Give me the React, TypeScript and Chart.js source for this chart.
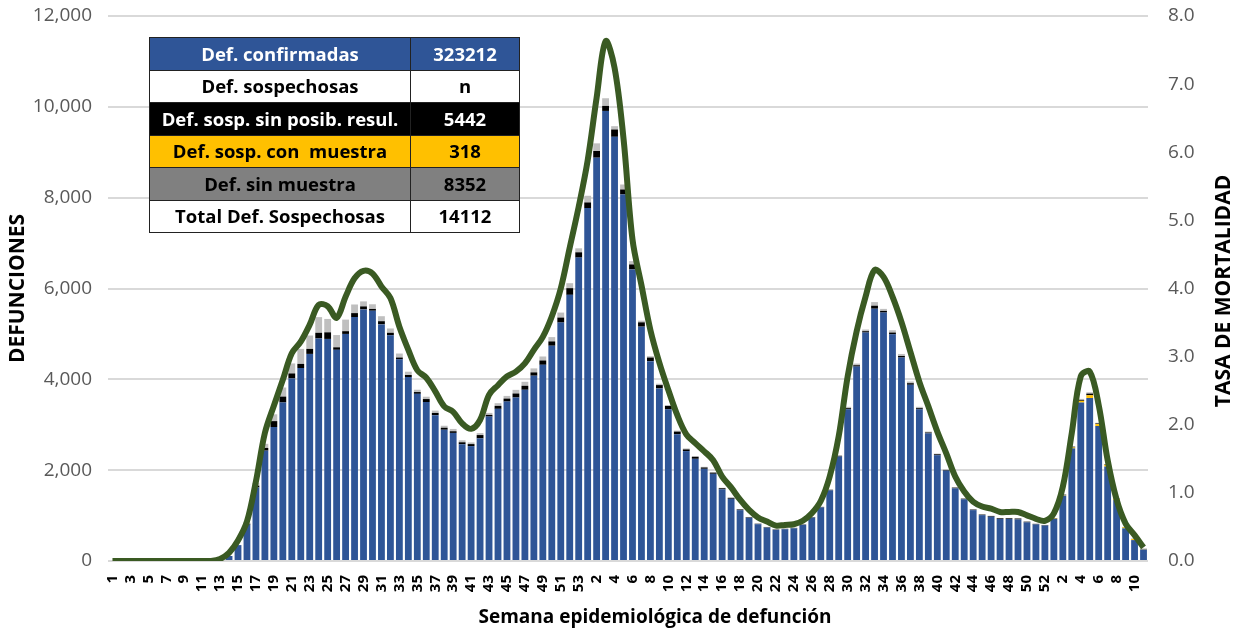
import React, { useEffect, useRef } from "react";
import { Chart, registerables } from "chart.js";

Chart.register(...registerables);

const weekLabels: string[] = [
  "1","2","3","4","5","6","7","8","9","10","11","12","13","14","15","16","17","18","19","20",
  "21","22","23","24","25","26","27","28","29","30","31","32","33","34","35","36","37","38","39","40",
  "41","42","43","44","45","46","47","48","49","50","51","52","53",
  "1","2","3","4","5","6","7","8","9","10","11","12","13","14","15","16","17","18","19","20",
  "21","22","23","24","25","26","27","28","29","30","31","32","33","34","35","36","37","38","39","40",
  "41","42","43","44","45","46","47","48","49","50","51","52",
  "1","2","3","4","5","6","7","8","9","10","11",
];

const confirmadas: number[] = [
  // 2020
  0,0,0,0,0,0,0,0,0,0,0,5,30,110,350,800,1620,2430,2950,3490,
  4020,4250,4560,4900,4890,4650,5000,5370,5540,5510,5210,4970,4440,4050,3680,3500,3210,2890,2820,2570,
  2530,2700,3180,3350,3510,3600,3770,4080,4320,4740,5250,5860,6680,
  // 2021
  7770,8880,9910,9340,8070,6420,5160,4400,3800,3340,2790,2420,2250,2030,1920,1580,1370,1120,950,810,
  735,685,700,720,795,955,1180,1555,2300,3340,4280,5030,5555,5470,4990,4480,3880,3340,2810,2330,
  1990,1600,1360,1120,1010,975,925,925,915,850,805,780,
  // 2022
  925,1440,2480,3490,3590,2970,2080,1340,720,460,255,
];

const sospConMuestra: number[] = [
  0,0,0,0,0,0,0,0,0,0,0,0,0,0,0,0,0,0,0,0,
  0,0,0,0,0,0,0,0,0,0,0,0,0,0,0,0,0,0,0,0,
  0,0,0,0,0,0,0,0,0,0,0,0,0,
  0,0,0,0,0,0,0,0,0,0,0,0,0,0,0,0,0,0,0,0,
  0,0,0,0,0,0,0,0,0,0,0,0,0,0,0,0,0,0,0,0,
  0,0,0,0,0,0,0,0,0,0,0,0,
  5,10,20,37,59,44,37,22,22,22,10,
];

const sospSinPosibResul: number[] = [
  0,0,0,0,0,0,0,0,0,0,0,0,0,0,0,20,40,60,130,130,
  110,90,110,125,145,55,60,88,66,40,70,55,40,45,40,66,50,44,37,44,
  44,73,37,66,66,88,88,73,95,95,110,147,117,
  125,147,110,161,110,110,95,80,73,73,59,37,44,29,25,22,20,15,12,10,
  10,8,8,8,8,10,10,12,15,25,30,30,66,37,40,35,35,25,20,20,
  15,15,12,12,12,15,15,15,20,15,12,10,
  10,10,15,20,37,15,10,8,5,5,3,
];

const sinMuestra: number[] = [
  0,0,0,0,0,0,0,0,0,0,0,0,0,0,0,30,60,90,150,200,
  220,330,295,345,295,270,255,190,110,103,110,95,88,73,51,51,51,44,51,44,
  37,44,44,59,59,80,88,88,88,95,110,110,88,
  147,169,169,73,110,73,37,30,30,22,22,22,15,15,12,10,10,8,8,6,
  6,5,5,5,5,6,8,10,15,30,37,37,80,44,51,44,37,30,20,15,
  12,12,10,10,8,8,8,8,8,8,6,6,
  6,8,15,22,29,15,10,8,5,5,3,
];

const tasaMortalidad: number[] = [
  0,0,0,0,0,0,0,0,0,0,0,0,0.03,0.12,0.30,0.58,1.17,1.88,2.28,2.66,
  3.05,3.22,3.47,3.76,3.74,3.57,3.88,4.15,4.26,4.22,4.03,3.86,3.44,3.10,2.80,2.69,2.49,2.27,2.19,2.02,
  1.94,2.07,2.44,2.58,2.71,2.78,2.90,3.10,3.29,3.59,4.00,4.60,5.20,
  5.88,6.80,7.63,7.24,6.20,4.72,4.05,3.39,2.91,2.51,2.14,1.86,1.73,1.61,1.48,1.24,1.08,0.90,0.75,0.64,
  0.58,0.52,0.53,0.54,0.59,0.70,0.88,1.24,1.83,2.71,3.37,3.88,4.27,4.17,3.88,3.51,3.07,2.63,2.27,1.90,
  1.58,1.24,1.02,0.87,0.80,0.77,0.72,0.72,0.72,0.67,0.62,0.59,
  0.70,1.09,1.88,2.71,2.78,2.29,1.48,0.90,0.55,0.38,0.20,
];

const tableRows: { label: string; value: string; bg: string; color: string }[] = [
  { label: "Def. confirmadas", value: "323212", bg: "#2F5597", color: "#ffffff" },
  { label: "Def. sospechosas", value: "n", bg: "#ffffff", color: "#000000" },
  { label: "Def. sosp. sin posib. resul.", value: "5442", bg: "#000000", color: "#ffffff" },
  { label: "Def. sosp. con  muestra", value: "318", bg: "#FFC000", color: "#000000" },
  { label: "Def. sin muestra", value: "8352", bg: "#808080", color: "#000000" },
  { label: "Total Def. Sospechosas", value: "14112", bg: "#ffffff", color: "#000000" },
];

const xTitle = "Semana epidemiológica de defunción";
const rightTitle = "TASA DE MORTALIDAD";

const FONT = "'Open Sans', 'DejaVu Sans', sans-serif";
const CLEAR = "rgba(0,0,0,0)";

export default function App() {
  const canvasRef = useRef<HTMLCanvasElement | null>(null);

  useEffect(() => {
    const canvas = canvasRef.current;
    if (!canvas) return;
    const chart = new Chart(canvas, {
      type: "bar",
      data: {
        labels: weekLabels,
        datasets: [
          {
            type: "line",
            label: "Tasa de mortalidad",
            data: tasaMortalidad,
            yAxisID: "y1",
            borderColor: "#3A5A23",
            borderWidth: 6,
            pointRadius: 0,
            tension: 0.35,
            fill: false,
            order: 0,
          } as any,
          {
            label: "Def. confirmadas",
            data: confirmadas,
            backgroundColor: "#2F5597",
            yAxisID: "y",
            stack: "s",
            order: 1,
          },
          {
            label: "Def. sosp. con muestra",
            data: sospConMuestra,
            backgroundColor: "#FFC000",
            yAxisID: "y",
            stack: "s",
            order: 1,
          },
          {
            label: "Def. sosp. sin posib. resul.",
            data: sospSinPosibResul,
            backgroundColor: "#000000",
            yAxisID: "y",
            stack: "s",
            order: 1,
          },
          {
            label: "Def. sin muestra",
            data: sinMuestra,
            backgroundColor: "#BFBFBF",
            yAxisID: "y",
            stack: "s",
            order: 1,
          },
        ],
      },
      options: {
        responsive: false,
        animation: false,
        layout: { padding: { top: 16, left: 0, right: 0, bottom: 0 } },
        datasets: {
          bar: { barPercentage: 0.76, categoryPercentage: 1.0 },
        },
        plugins: {
          legend: { display: false },
          tooltip: { enabled: false },
        },
        scales: {
          x: {
            stacked: true,
            grid: { display: false },
            border: { display: false },
            ticks: {
              autoSkip: false,
              maxRotation: 90,
              minRotation: 90,
              padding: 6,
              color: "#000000",
              font: { family: FONT, size: 15, weight: "bold" },
              callback: (_v: any, i: number) => (i % 2 === 0 ? weekLabels[i] : ""),
            },
            title: { display: false },
            afterFit: (s: any) => {
              s.height = 70;
            },
          },
          y: {
            stacked: true,
            position: "left",
            min: 0,
            max: 12000,
            grid: {
              color: "#D9D9D9",
              lineWidth: 2,
              drawTicks: true,
              tickLength: 14,
              tickColor: CLEAR,
            },
            border: { display: false },
            ticks: {
              stepSize: 2000,
              padding: 2,
              color: "#595959",
              font: { family: FONT, size: 19 },
              callback: (v: any) => Number(v).toLocaleString("en-US"),
            },
            title: {
              display: true,
              text: "DEFUNCIONES",
              color: "#000000",
              font: { family: FONT, size: 21, weight: "bold" },
              padding: { top: 5, bottom: 0 },
            },
            afterFit: (s: any) => {
              s.width = 108;
            },
          },
          y1: {
            stacked: false,
            position: "right",
            min: 0,
            max: 8,
            grid: {
              display: true,
              drawOnChartArea: false,
              drawTicks: true,
              tickLength: 18,
              color: CLEAR,
              tickColor: CLEAR,
            },
            border: { display: false },
            ticks: {
              stepSize: 1,
              padding: 2,
              color: "#595959",
              font: { family: FONT, size: 19 },
              callback: (v: any) => Number(v).toFixed(1),
            },
            title: { display: false },
            afterFit: (s: any) => {
              s.width = 90;
            },
          },
        },
      } as any,
    });
    return () => chart.destroy();
  }, []);

  return (
    <div style={{ position: "fixed", left: 0, top: 0, width: 1238, height: 631, background: "#ffffff" }}>
      <canvas ref={canvasRef} width={1238} height={631} style={{ display: "block" }} />
      <div
        style={{
          position: "absolute",
          left: 455,
          width: 400,
          top: 603,
          textAlign: "center",
          fontFamily: FONT,
          fontWeight: "bold",
          fontSize: 19,
          lineHeight: "26px",
          color: "#000000",
          whiteSpace: "nowrap",
        }}
      >
        {xTitle}
      </div>
      <div
        style={{
          position: "absolute",
          left: 1222 - 160,
          width: 320,
          top: 291 - 14,
          height: 28,
          textAlign: "center",
          fontFamily: FONT,
          fontWeight: "bold",
          fontSize: 21,
          lineHeight: "28px",
          color: "#000000",
          whiteSpace: "nowrap",
          transform: "rotate(-90deg)",
          transformOrigin: "50% 50%",
        }}
      >
        {rightTitle}
      </div>
      <table
        style={{
          position: "absolute",
          left: 149,
          top: 37,
          width: 371,
          borderCollapse: "collapse",
          fontFamily: FONT,
          fontWeight: "bold",
          fontSize: 18.5,
          tableLayout: "fixed",
        }}
      >
        <tbody>
          {tableRows.map((r, i) => (
            <tr key={i} style={{ height: 32.5 }}>
              <td
                style={{
                  width: 260,
                  background: r.bg,
                  color: r.color,
                  textAlign: "center",
                  border: "1px solid #222",
                  padding: 0,
                  whiteSpace: "pre",
                  lineHeight: "30px",
                }}
              >
                {r.label}
              </td>
              <td
                style={{
                  background: r.bg,
                  color: r.color,
                  textAlign: "center",
                  border: "1px solid #222",
                  padding: 0,
                  lineHeight: "30px",
                }}
              >
                {r.value}
              </td>
            </tr>
          ))}
        </tbody>
      </table>
    </div>
  );
}
